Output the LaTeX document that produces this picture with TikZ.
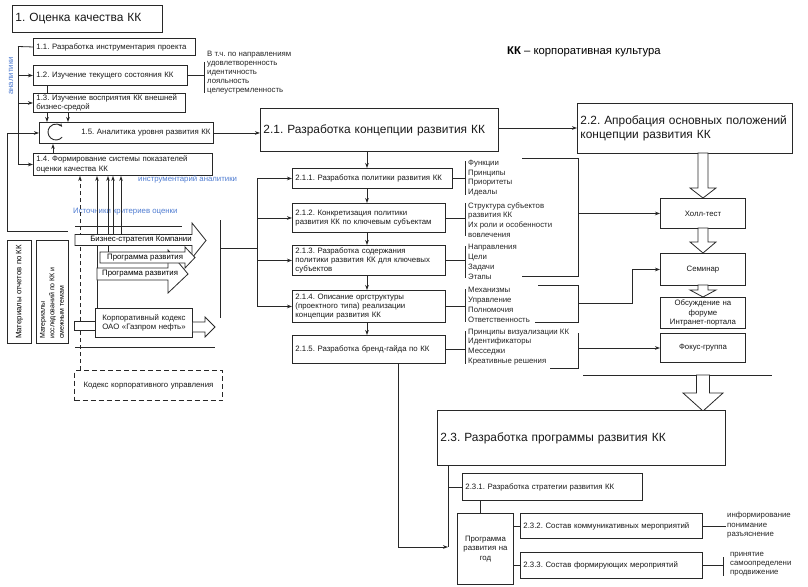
\documentclass[tikz,border=0pt]{standalone}
\usepackage{fontspec}
\setmainfont{Liberation Sans}
\usetikzlibrary{arrows.meta}
\newcommand\fsm{\fontsize{7.8}{9.2}\selectfont}
\newcommand\flst{\fontsize{7.8}{9.8}\selectfont}
\newcommand\frot{\fontsize{7}{9.5}\selectfont}
\newcommand\fbig{\fontsize{11.9}{14}\selectfont}
\newcommand\fkk{\fontsize{11.3}{13}\selectfont}
\newcommand\fblu{\fontsize{7.8}{9}\selectfont}
\definecolor{lc}{RGB}{40,40,40}
\definecolor{bluec}{RGB}{80,125,210}
\newcommand\hollowarr[6]{\draw[hol] (#1-#5,#2) -- (#1+#5,#2) -- (#1+#5,#4) -- (#1+#6,#4) -- (#1,#3) -- (#1-#6,#4) -- (#1-#5,#4) -- cycle;}
\begin{document}
\frenchspacing
\begin{tikzpicture}[x=1pt,y=-1pt,
  ln/.style={draw=lc, line width=0.8pt},
  arr/.style={ln, -{Stealth[length=5pt,width=3.6pt]}},
  bx/.style={draw=lc, line width=0.95pt, fill=white, anchor=north west, inner xsep=3pt, inner ysep=0pt, font=\fsm, align=left, text=black!90},
  bxc/.style={bx, align=center},
  big/.style={font=\fbig},
  lst/.style={anchor=west, font=\flst, align=left, inner sep=0pt, text=black!85},
  hol/.style={draw=lc, line width=0.8pt, fill=white, line join=miter},
  blu/.style={font=\fblu, text=bluec, inner sep=0pt},
]
\useasboundingbox (0,0) rectangle (808,586);
\fill[white] (0,0) rectangle (808,586);

% ---------- block 1 ----------
\node[bx,big,text width=144pt,minimum height=27pt] (t1) at (12,5) {1. Оценка качества КК};
\node[bx,text width=156pt,minimum height=17pt] (b11) at (33,38) {1.1. Разработка инструментария проекта};
\node[bx,text width=148pt,minimum height=20pt] (b12) at (33,65) {1.2. Изучение текущего состояния КК};
\node[bx,text width=146pt,minimum height=19pt] (b13) at (33,93) {1.3. Изучение восприятия КК внешней\\бизнес-средой};
\node[bx,align=right,text width=168pt,minimum height=21pt] (b15) at (39,122) {1.5. Аналитика уровня развития КК};
\node[bx,text width=173pt,minimum height=22pt] (b14) at (33,153) {1.4. Формирование системы показателей\\оценки качества КК};
\draw[ln, line width=0.9pt, -{Stealth[length=3.5pt,width=3.2pt]}] (56,132) ++(40:8) arc[start angle=40, end angle=320, radius=8];

\coordinate (sp) at (18,46.5);
\draw[ln] (sp) -- (sp |- b14.west);
\draw[ln] (sp) -- (b11.west);
\draw[arr] (sp |- b12.west) -- (b12.west);
\draw[arr] (sp |- b13.west) -- (b13.west);
\draw[arr] (sp |- b14.west) -- (b14.west);
\coordinate (xa) at (47,0);
\coordinate (xb) at (68,0);
\coordinate (xc) at (53,0);
\draw[ln] (b12.south -| xa) -- (b13.north -| xa);
\draw[arr] (b13.south -| xa) -- (b15.north -| xa);
\draw[arr] (b13.south -| xb) -- (b15.north -| xb);
\draw[arr] (b14.north -| xc) -- (b15.south -| xc);

\draw[ln] (b12.east) -- ++(16,0) coordinate (vb);
\draw[ln] (vb |- 0,62) -- (vb |- 0,93);
\node[lst,anchor=north west,font=\fsm] (vt) at (207,50.5) {В т.ч. по направлениям\\удовлетворенность\\идентичность\\лояльность\\целеустремленность};

\node[blu,rotate=90] (an) at (11,76) {аналитики};
\node[blu,anchor=west] (ia) at (138,179) {инструментарий аналитики};
\node[blu,anchor=west] (ik) at (73,212) {Источники критериев оценки};

% ---------- sources ----------
\node[bxc,text width=91pt,minimum height=29pt] (kod) at (95,308) {Корпоративный кодекс\\ОАО «Газпром нефть»};
\node[bxc,dash pattern=on 5pt off 3pt,line width=1pt,text width=142pt,minimum height=30pt] (kcu) at (74,370) {Кодекс корпоративного управления};
\node[bx,text width=18pt,minimum height=103pt] (lb1) at (7,240) {};
\node[bx,text width=26pt,minimum height=103pt] (lb2) at (36,240) {};
\node[font=\fsm,rotate=90,inner sep=0pt] (lt1) at (lb1.center) {Материалы отчетов по КК};
\node[font=\frot,rotate=90,align=left,inner sep=0pt,anchor=west] (lt2) at (52,339) {Материалы\\исследований по КК и\\смежным темам};

\coordinate (ll) at (7,231);
\draw[arr] (ll) |- (b15.west);
\draw[ln] (ll) -- (68,231);
\draw[ln] (75,226) -- (182,226);
\coordinate (xd) at (80,0);
\coordinate (xe) at (97,0);
\coordinate (f1) at (108,252);
\coordinate (g1) at (113,234);
\coordinate (h1) at (121,234);
\draw[arr,dash pattern=on 4pt off 3pt] (kcu.north -| xd) -- (b14.south -| xd);
\draw[arr] (kod.north -| xe) -- (b14.south -| xe);
\draw[arr] (f1) -- (b14.south -| f1);
\draw[arr] (g1) -- (b14.south -| g1);
\draw[arr] (h1) -- (b14.south -| h1);

\draw[hol] (75,234.5) -- (192,234.5) -- (192,223) -- (206,240.5) -- (192,258) -- (192,245.5) -- (75,245.5) -- cycle;
\draw[hol] (97,268) -- (168,268) -- (168,250) -- (188,274) -- (168,293) -- (168,280) -- (97,280) -- cycle;
\draw[hol] (100,252) -- (185,252) -- (185,247) -- (195,257.5) -- (185,268) -- (185,263) -- (100,263) -- cycle;
\node[font=\fsm,inner sep=0pt] (bsk) at (141,240) {Бизнес-стратегия Компании};
\node[font=\fsm,inner sep=0pt,anchor=west] (pr1) at (107,257.5) {Программа развития};
\node[font=\fsm,inner sep=0pt,anchor=west] (pr2) at (102,274) {Программа развития};
\draw[hol] (74,321.5) rectangle (kod.west |- 0,330.5);
\draw[hol] (kod.east |- 0,322) -- (205,322) -- (205,317) -- (215,327) -- (205,337) -- (205,332) -- (kod.east |- 0,332);
\draw[ln] (75,347) -- (215,347);

% ---------- block 2.1 ----------
\node[bx,big,text width=232pt,minimum height=43pt] (b21) at (260,108) {2.1. Разработка концепции развития КК};
\node[bx,big,text width=209pt,minimum height=50pt] (b22) at (577,103) {2.2. Апробация основных положений\\концепции развития КК};
\node[bx,text width=154pt,minimum height=20pt] (b211) at (292,168) {2.1.1. Разработка политики развития КК};
\node[bx,text width=147pt,minimum height=29pt] (b212) at (292,203) {2.1.2. Конкретизация политики\\развития КК по ключевым субъектам};
\node[bx,text width=147pt,minimum height=30pt] (b213) at (292,245) {2.1.3. Разработка содержания\\политики развития КК для ключевых\\субъектов};
\node[bx,text width=147pt,minimum height=32pt] (b214) at (292,290) {2.1.4. Описание оргструктуры\\(проектного типа) реализации\\концепции развития КК};
\node[bx,text width=147pt,minimum height=28pt] (b215) at (292,335) {2.1.5. Разработка бренд-гайда по КК};

\draw[arr] (b15.east) -- (b15.east -| b21.west);
\coordinate (y128) at (0,128);
\draw[arr] (b21.east |- y128) -- (b22.west |- y128);
\coordinate (xm) at (367,0);
\draw[arr] (b21.south -| xm) -- (b211.north -| xm);
\draw[arr] (b211.south -| xm) -- (b212.north -| xm);
\draw[arr] (b212.south -| xm) -- (b213.north -| xm);
\draw[arr] (b213.south -| xm) -- (b214.north -| xm);
\draw[arr] (b214.south -| xm) -- (b215.north -| xm);

\draw[ln] (220,220) -- (220,318);
\coordinate (xs) at (257,0);
\draw[ln] (220,248) -- (xs |- 0,248);
\draw[ln] (b211.west -| xs) -- (b214.west -| xs);
\draw[arr] (b211.west -| xs) -- (b211.west);
\draw[arr] (b212.west -| xs) -- (b212.west);
\draw[arr] (b213.west -| xs) -- (b213.west);
\draw[arr] (b214.west -| xs) -- (b214.west);

\coordinate (xl) at (465,0);
\draw[ln] (b211.east) -- (b211.east -| xl);
\draw[ln] (465,161) -- (465,195);
\node[lst] (l1) at (468,178) {Функции\\Принципы\\Приоритеты\\Идеалы};
\draw[ln] (b212.east) -- (b212.east -| xl);
\draw[ln] (465,203) -- (465,236);
\node[lst] (l2) at (468,220) {Структура субъектов\\развития КК\\Их роли и особенности\\вовлечения};
\draw[ln] (b213.east) -- (b213.east -| xl);
\draw[ln] (465,246) -- (465,278);
\node[lst] (l3) at (468,262) {Направления\\Цели\\Задачи\\Этапы};
\draw[ln] (b214.east) -- (b214.east -| xl);
\draw[ln] (465,289) -- (465,322);
\node[lst] (l4) at (468,305) {Механизмы\\Управление\\Полномочия\\Ответственность};
\draw[ln] (b215.east) -- (b215.east -| xl);
\draw[ln] (465,331) -- (465,364);
\node[lst] (l5) at (468,347) {Принципы визуализации КК\\Идентификаторы\\Месседжи\\Креативные решения};

% ---------- block 2.2 ----------
\node[bxc,text width=79pt,minimum height=30pt] (hall) at (660,198) {Холл-тест};
\node[bxc,text width=79pt,minimum height=32pt] (sem) at (660,253) {Семинар};
\node[bxc,text width=79pt,minimum height=31pt] (forum) at (660,297) {Обсуждение на\\форуме\\Интранет-портала};
\node[bxc,text width=79pt,minimum height=29pt] (focus) at (660,333) {Фокус-группа};

\coordinate (xr) at (578,0);
\draw[ln] (522,158) -- (578,158) -- (578,276) -- (522,276);
\draw[arr] (xr |- hall.west) -- (hall.west);
\draw[ln] (538,285) -- (578,285) -- (578,322) -- (535,322);
\coordinate (k2) at (578,303);
\draw[arr] (k2) -- ++(54,0) |- (sem.west);
\draw[ln] (578,333) -- (578,368) -- (550,368);
\draw[arr] (xr |- focus.west) -- (focus.west);

\hollowarr{703}{153}{198}{188}{5}{13}
\hollowarr{703}{228}{253}{242}{5}{13}
\hollowarr{703}{285}{297}{290}{5}{13}
\draw[ln] (583,375) -- (772,375);
\hollowarr{703}{375}{411}{393}{6.5}{20}

% ---------- block 2.3 ----------
\node[bx,big,text width=282pt,minimum height=55pt] (b23) at (437,410) {2.3. Разработка программы развития КК};
\node[bx,text width=174pt,minimum height=27pt] (b231) at (462,473) {2.3.1. Разработка стратегии развития КК};
\node[bxc,text width=50pt,minimum height=71pt] (prog) at (457,513) {Программа\\развития на\\год};
\node[bx,text width=176pt,minimum height=25pt] (b232) at (520,513) {2.3.2. Состав коммуникативных мероприятий};
\node[bx,text width=176pt,minimum height=26pt] (b233) at (520,552) {2.3.3. Состав формирующих мероприятий};

\coordinate (xq) at (448,0);
\coordinate (yq) at (0,547);
\draw[ln] (b23.south -| xq) -- (xq |- yq);
\draw[ln] (b231.west -| xq) -- (b231.west);
\coordinate (xt) at (398,0);
\draw[arr] (b215.south -| xt) |- (xq |- yq);
\coordinate (xp) at (480,0);
\draw[ln] (b231.south -| xp) -- (prog.north -| xp);
\draw[ln] (b232.west -| prog.east) -- (b232.west);
\draw[ln] (b233.west -| prog.east) -- (b233.west);
\draw[ln] (b232.east) -- ++(23,0);
\node[lst,font=\fsm] (l6) at (727,525) {информирование\\понимание\\разъяснение};
\draw[ln] (b233.east) -- ++(20,0) coordinate (vq);
\draw[ln] (vq |- 0,557) -- (vq |- 0,576);
\node[lst,font=\fsm] (l7) at (730,564) {принятие\\самоопределени\\продвижение};

\node[font=\fkk,anchor=west,inner sep=0pt] (kk) at (507,52) {\textbf{КК} – корпоративная культура};
\end{tikzpicture}
\end{document}
